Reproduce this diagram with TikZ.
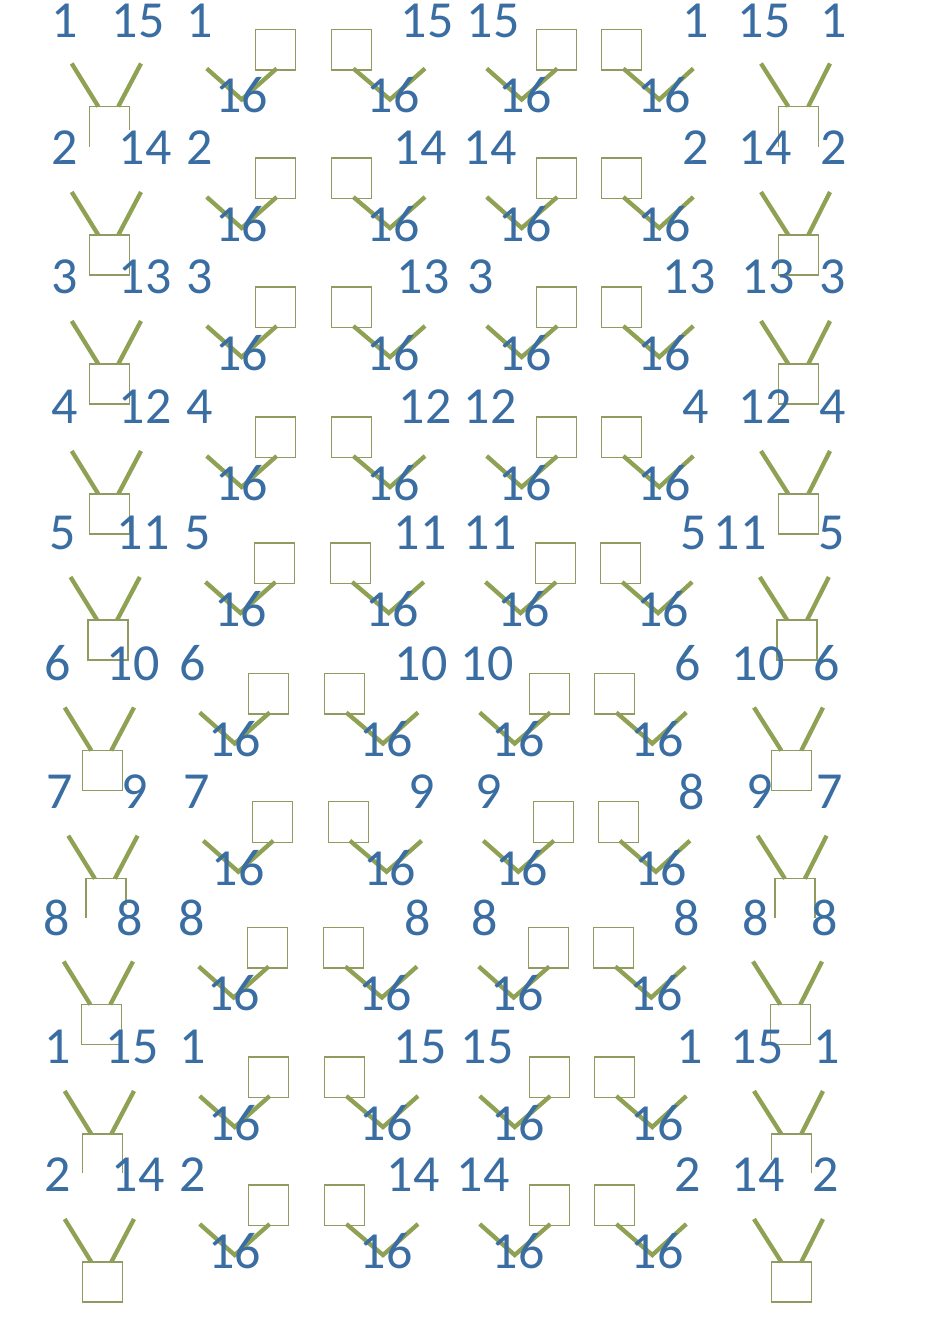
\documentclass[tikz,border=0pt]{standalone}
\usepackage{fontspec}
\setmainfont{Carlito}
\definecolor{txt}{RGB}{58,110,162}
\definecolor{oliv}{RGB}{143,161,83}
\definecolor{sqc}{RGB}{145,155,95}
\tikzset{
  lab/.style={text=txt,font=\fontsize{52}{52}\selectfont,inner sep=0pt,anchor=center},
  thk/.style={draw=oliv,line width=4.3pt},
  box/.style={draw=sqc,line width=1.3pt},
}
% shapes of one row: #1 dx, #2 Y, #3 row id
\newcommand\rowshapes[3]{%
\begin{scope}[shift={(#1,#2)}]
  \draw[thk] (71.7,44) -- (98.3,87);
  \draw[thk] (141,44) -- (118.3,87);
  \draw[thk] (761,44) -- (788.3,87);
  \draw[thk] (830,44) -- (808.3,87);
  \draw[thk] (206.7,49) -- (241.7,80) -- (276.7,49);
  \draw[thk] (353.3,49) -- (390,80) -- (425,49);
  \draw[thk] (486.7,49) -- (521.7,80) -- (557.3,49);
  \draw[thk] (623.3,49) -- (659.3,80) -- (693.3,49);
  \draw[box] (255.7,10) rectangle (295.7,50.5);
  \draw[box] (331.7,10) rectangle (371.7,50.5);
  \draw[box] (536.7,10) rectangle (576.7,50.5);
  \draw[box] (601.7,10) rectangle (641.7,50.5);
  \node[lab] (#3s1) at (241.7,76) {16};
  \node[lab] (#3s2) at (393.3,76) {16};
  \node[lab] (#3s3) at (525,76) {16};
  \node[lab] (#3s4) at (664,76) {16};
\end{scope}}
% full side squares
\newcommand\fullsq[2]{%
\begin{scope}[shift={(#1,#2)}]
  \draw[box] (89.3,87) rectangle (129.3,127);
  \draw[box] (778.3,87) rectangle (818.3,127);
\end{scope}}
% open side squares: #3,#4 left/right edge of A; #5,#6 of F
\newcommand\opensq[6]{%
\begin{scope}[shift={(#1,#2)}]
  \draw[box] (89.3,87+#3) -- (89.3,87) -- (129.3,87) -- (129.3,87+#4);
  \draw[box] (778.3,87+#5) -- (778.3,87) -- (818.3,87) -- (818.3,87+#6);
\end{scope}}
\newcommand\rowlabels[3]{%
  \foreach \x/\t [count=\i] in {#3} \node[lab] (#1l\i) at (\x,#2) {\t};}
\begin{document}
\begin{tikzpicture}[x=1pt,y=-1pt]
\useasboundingbox[fill=white] (0,0) rectangle (950,1344);
\rowshapes{0}{19.5}{ra}
\opensq{0}{19.5}{40}{23}{40}{40}
\rowshapes{0}{148}{rb}
\fullsq{0}{148}
\rowshapes{0}{277}{rc}
\fullsq{0}{277}
\rowshapes{0}{407}{rd}
\fullsq{0}{407}
\rowshapes{-1.2}{533}{re}
\fullsq{-1.2}{533}
\rowshapes{-7}{663.5}{rf}
\fullsq{-7}{663.5}
\rowshapes{-3.4}{791.7}{rg}
\opensq{-3.4}{791.7}{39}{26}{39}{39}
\rowshapes{-8}{917.5}{rh}
\fullsq{-8}{917.5}
\rowshapes{-7}{1047}{ri}
\opensq{-7}{1047}{39}{39}{26}{39}
\rowshapes{-7}{1175}{rj}
\fullsq{-7}{1175}
\rowlabels{ra}{20.5}{65/1,138/15,200/1,427/15,493/15,696/1,764/15,834/1}
\rowlabels{rb}{148}{65/2,145/14,200/2,420/14,490/14,696/2,765/14,834/2}
\rowlabels{rc}{277}{65/3,145/13,200/3,423/13,481/3,689/13,768/13,833/3}
\rowlabels{rd}{407}{65/4,145/12,200/4,425/12,490/12,696/4,765/12,833/4}
\rowlabels{re}{533}{63/5,143/11,198/5,420/11,490/11,694/5,740/11,832/5}
\rowlabels{rf}{663.5}{58/6,133/10,193/6,421/10,487/10,688/6,758/10,827/6}
\rowlabels{rg}{791.7}{60/7,135/9,197/7,422/9,489/9,692/8,760/9,830/7}
\rowlabels{rh}{917.5}{57/8,130/8,192/8,418/8,485/8,687/8,756/8,825/8}
\rowlabels{ri}{1047}{58/1,132/15,193/1,420/15,487/15,690/1,757/15,827/1}
\rowlabels{rj}{1175}{58/2,138/14,193/2,413/14,483/14,688/2,758/14,826/2}
\end{tikzpicture}
\end{document}
